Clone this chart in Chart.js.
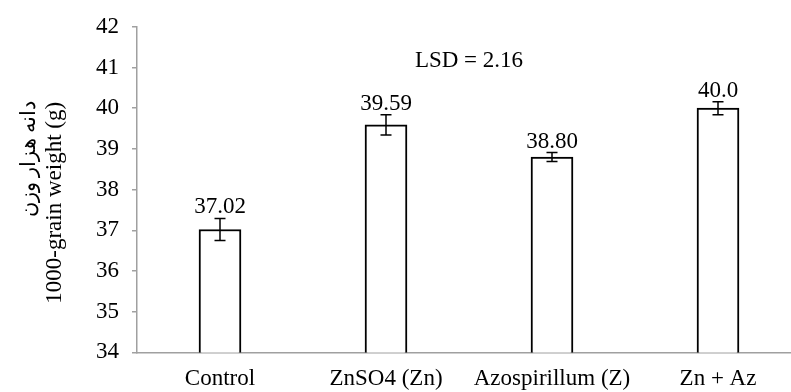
<!DOCTYPE html>
<html>
<head>
<meta charset="utf-8">
<script src="https://cdn.jsdelivr.net/npm/chart.js@4/dist/chart.umd.min.js"></script>
<style>
  html, body { margin: 0; padding: 0; background: #fff; overflow: hidden; width: 791px; height: 392px; }
  canvas { display: block; }
</style>
</head>
<body>
<canvas id="c" width="801" height="392"></canvas>
<script>
const categories = ['Control', 'ZnSO4 (Zn)', 'Azospirillum (Z)', 'Zn + Az'];
const means = [37.02, 39.59, 38.80, 40.0];
const errors = [0.27, 0.25, 0.11, 0.16];
const valueLabels = ['37.02', '39.59', '38.80', '40.0'];
const yTicks = [34, 35, 36, 37, 38, 39, 40, 41, 42];
const yTitlePersian = 'دانه هزار وزن';
const yTitleEnglish = '1000-grain weight (g)';
const lsdText = 'LSD = 2.16';

const FONT = "'Liberation Serif', 'Times New Roman', serif";
const AXIS = '#a0a0a0';

const annotatePlugin = {
  id: 'annotate',
  afterDatasetsDraw(chart) {
    const ctx = chart.ctx;
    const meta = chart.getDatasetMeta(0);
    const y = chart.scales.y;
    ctx.save();
    ctx.strokeStyle = '#000';
    ctx.lineWidth = 1.5;
    ctx.fillStyle = '#000';
    ctx.font = '23px ' + FONT;
    ctx.textAlign = 'center';
    ctx.textBaseline = 'alphabetic';
    meta.data.forEach((bar, i) => {
      const x = bar.x;
      const top = y.getPixelForValue(means[i] + errors[i]);
      const bot = y.getPixelForValue(means[i] - errors[i]);
      const cap = 5.5;
      ctx.beginPath();
      ctx.moveTo(x, top); ctx.lineTo(x, bot);
      ctx.moveTo(x - cap, top); ctx.lineTo(x + cap, top);
      ctx.moveTo(x - cap, bot); ctx.lineTo(x + cap, bot);
      ctx.stroke();
      ctx.fillText(valueLabels[i], x, top - 5);
    });
    const a = chart.chartArea;
    ctx.fillText(lsdText, (a.left + a.right) / 2, a.top + 40);

    // y-axis title (two lines, rotated)
    ctx.textBaseline = 'middle';
    ctx.save();
    ctx.translate(a.left - 82, a.top + 176);
    ctx.rotate(-Math.PI / 2);
    ctx.font = '23px ' + FONT;
    ctx.fillText(yTitleEnglish, 0, 0);
    ctx.restore();
    ctx.save();
    ctx.translate(a.left - 108, a.top + 132);
    ctx.rotate(-Math.PI / 2);
    ctx.font = '21px ' + FONT;
    ctx.fillText(yTitlePersian, 0, 0);
    ctx.restore();
    ctx.restore();
  }
};

new Chart(document.getElementById('c'), {
  type: 'bar',
  data: {
    labels: categories,
    datasets: [{
      data: means,
      backgroundColor: '#ffffff',
      borderColor: '#000000',
      borderWidth: 2,
      borderSkipped: false,
      barThickness: 42
    }]
  },
  options: {
    responsive: false,
    animation: false,
    layout: { padding: { left: 83, top: 16, right: 0, bottom: -14 } },
    plugins: { legend: { display: false }, tooltip: { enabled: false } },
    scales: {
      x: {
        grid: { display: false, drawTicks: false },
        border: { display: true, color: AXIS, width: 1.5 },
        ticks: { color: '#000', font: { family: FONT, size: 23 }, padding: 13, maxRotation: 0, autoSkip: false }
      },
      y: {
        min: 34, max: 42,
        afterBuildTicks(scale) { scale.ticks = yTicks.map(v => ({ value: v })); },
        grid: { drawOnChartArea: false, drawTicks: true, tickLength: 5, color: AXIS, lineWidth: 1.5 },
        border: { display: true, color: AXIS, width: 1.5 },
        ticks: { color: '#000', font: { family: FONT, size: 23 }, padding: 13 }
      }
    }
  },
  plugins: [annotatePlugin]
});
</script>
</body>
</html>
